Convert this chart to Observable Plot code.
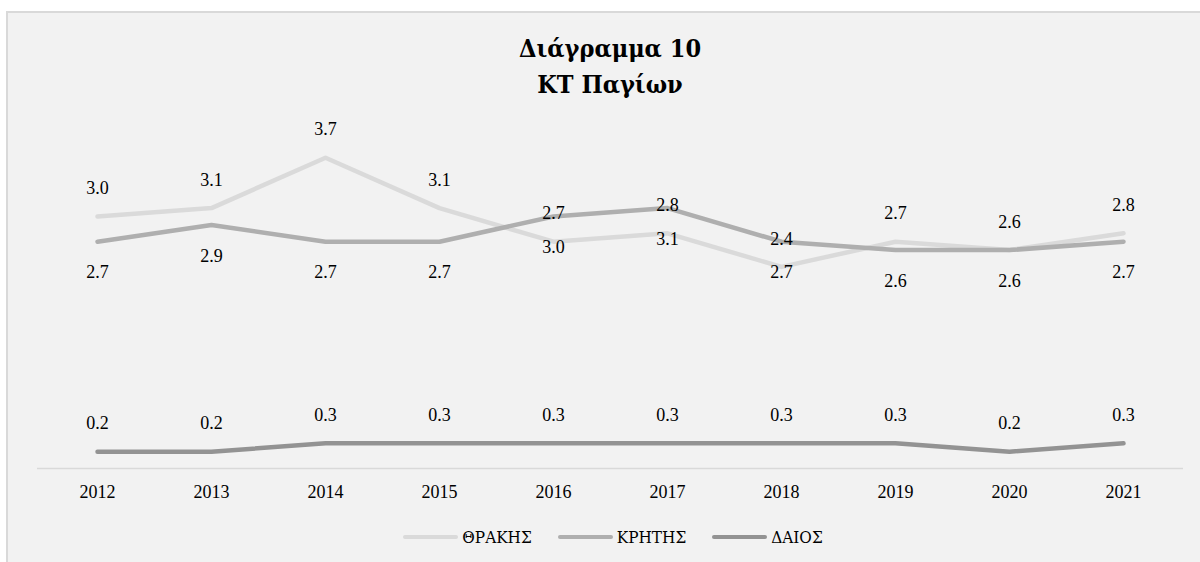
<!DOCTYPE html>
<html>
<head>
<meta charset="utf-8">
<script src="https://cdn.jsdelivr.net/npm/d3@7"></script>
<script src="https://cdn.jsdelivr.net/npm/@observablehq/plot@0.6"></script>
<style>
  html, body { margin: 0; padding: 0; background: #ffffff; width: 1200px; height: 562px; overflow: hidden; }
  body { position: relative; font-family: "Liberation Serif", "DejaVu Serif", serif; color: #000; }
  #panel {
    position: absolute; left: 6px; top: 11px; width: 1194px; height: 551px;
    background: #f2f2f2; border-left: 2px solid #d9d9d9; border-top: 2px solid #d9d9d9;
  }
  #title {
    position: absolute; left: 0; width: 1220px; top: 31px; text-align: center;
    font-weight: bold; font-size: 25px; line-height: 36px;
    font-family: "DejaVu Serif", serif; font-stretch: condensed;
  }
  #chart { position: absolute; left: 0; top: 0; }
  #legend {
    position: absolute; left: 0; width: 1226px; top: 525px; height: 24px;
    display: flex; justify-content: center; align-items: center; font-size: 17px;
    font-family: "DejaVu Serif", serif; font-stretch: condensed;
  }
  .item { display: flex; align-items: center; margin: 0 13px; }
  .swatch { width: 55px; height: 4.5px; border-radius: 3px; margin-right: 4px; }
</style>
</head>
<body>
<div id="panel"></div>
<div id="title">Διάγραμμα 10<br>ΚΤ Παγίων</div>
<div id="chart"></div>
<div id="legend"></div>
<script>
// Years on the horizontal axis
const years = ["2012", "2013", "2014", "2015", "2016", "2017", "2018", "2019", "2020", "2021"];

// Series names and values
const seriesNames = ["ΘΡΑΚΗΣ", "ΚΡΗΤΗΣ", "ΔΑΙΟΣ"];
const thrakis = [3.0, 3.1, 3.7, 3.1, 2.7, 2.8, 2.4, 2.7, 2.6, 2.8];
const kritis  = [2.7, 2.9, 2.7, 2.7, 3.0, 3.1, 2.7, 2.6, 2.6, 2.7];
const daios   = [0.2, 0.2, 0.3, 0.3, 0.3, 0.3, 0.3, 0.3, 0.2, 0.3];

// Line colours, one per series
const seriesColors = ["#dadada", "#afafaf", "#939393"];

const valuesBySeries = [thrakis, kritis, daios];
const rows = seriesNames.flatMap((name, s) =>
  years.map((year, i) => ({ year, series: name, value: valuesBySeries[s][i] }))
);
const of = name => rows.filter(d => d.series === name);
const fmt = d => d.value.toFixed(1);

const chart = Plot.plot({
  width: 1200,
  height: 562,
  marginLeft: 37,
  marginRight: 17,
  marginTop: 132,
  marginBottom: 94,
  style: {
    background: "transparent",
    fontFamily: "'Liberation Serif', 'DejaVu Serif', serif",
    fontSize: "18px",
    color: "#000"
  },
  x: { type: "point", domain: years, padding: 0.5, label: null },
  y: { domain: [0, 4], axis: null },
  color: { domain: seriesNames, range: seriesColors },
  marks: [
    Plot.ruleY([0], { stroke: "#d9d9d9", strokeWidth: 1.5 }),
    Plot.axisX({ tickSize: 0, tickPadding: 17, fontSize: 18, label: null }),
    Plot.line(rows, {
      x: "year", y: "value", z: "series", stroke: "series",
      strokeWidth: 4.5, strokeLinecap: "round", strokeLinejoin: "round"
    }),
    // Value labels: above for ΘΡΑΚΗΣ and ΔΑΙΟΣ, below for ΚΡΗΤΗΣ
    Plot.text(of("ΘΡΑΚΗΣ"), { x: "year", y: "value", text: fmt, dy: -28, fontSize: 18, fill: "#000" }),
    Plot.text(of("ΚΡΗΤΗΣ"), { x: "year", y: "value", text: fmt, dy: 31, fontSize: 18, fill: "#000" }),
    Plot.text(of("ΔΑΙΟΣ"), { x: "year", y: "value", text: fmt, dy: -28, fontSize: 18, fill: "#000" })
  ]
});
document.getElementById("chart").append(chart);

// Legend row
const legend = document.getElementById("legend");
seriesNames.forEach((name, i) => {
  const item = document.createElement("div");
  item.className = "item";
  const sw = document.createElement("span");
  sw.className = "swatch";
  sw.style.background = seriesColors[i];
  const label = document.createElement("span");
  label.textContent = name;
  item.append(sw, label);
  legend.append(item);
});
</script>
</body>
</html>
